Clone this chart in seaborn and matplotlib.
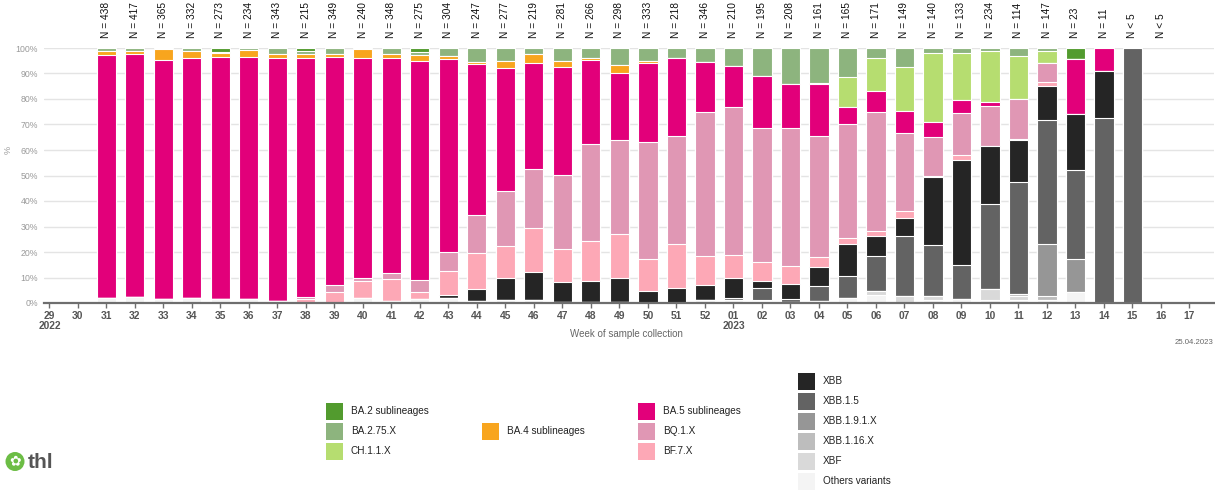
import numpy as np
import pandas as pd
import matplotlib
matplotlib.use("Agg")
import matplotlib.pyplot as plt
import matplotlib.transforms as mtransforms
from matplotlib.patches import Rectangle, Circle
import seaborn as sns

# ---------------- data ----------------
weeks = ["29", "30", "31", "32", "33", "34", "35", "36", "37", "38", "39", "40",
         "41", "42", "43", "44", "45", "46", "47", "48", "49", "50", "51", "52",
         "01", "02", "03", "04", "05", "06", "07", "08", "09", "10", "11", "12",
         "13", "14", "15", "16", "17"]

n_labels = ["", "", "N = 438", "N = 417", "N = 365", "N = 332", "N = 273", "N = 234",
            "N = 343", "N = 215", "N = 349", "N = 240", "N = 348", "N = 275", "N = 304",
            "N = 247", "N = 277", "N = 219", "N = 281", "N = 266", "N = 298", "N = 333",
            "N = 218", "N = 346", "N = 210", "N = 195", "N = 208", "N = 161", "N = 165",
            "N = 171", "N = 149", "N = 140", "N = 133", "N = 234", "N = 114", "N = 147",
            "N = 23", "N = 11", "N < 5", "N < 5", ""]

Z22 = [0] * 24
Z23 = [0] * 17

others = [0, 0, 2.0, 2.3, 1.7, 2.0, 1.6, 1.7, 0.9, 0, 0, 1.8, 0.8, 1.6, 2.0, 0.6, 1.0, 1.0, 0.3, 0.3, 0.4, 0, 0, 1.0,
          1.3, 0.8, 0.4, 0.7, 1.8, 3.0, 0, 1.3, 1.5, 1.2, 1.2, 1.2, 4.3, 0, 0, 0, 0]
xbf = Z22 + [0, 0, 0, 0, 0, 1.7, 2.7, 1.5, 0, 4.2, 1.6, 0, 0, 0, 0, 0, 0]
xbb116 = Z22 + [0, 0, 0, 0, 0, 0, 0, 0, 0, 0, 0.6, 1.4, 0, 0, 0, 0, 0]
xbb191 = Z22 + [0, 0.5, 0, 0, 0, 0, 0, 0, 0, 0, 0, 20.6, 12.9, 0, 0, 0, 0]
xbb15 = Z22 + [0.5, 4.4, 1.0, 5.9, 8.9, 13.9, 23.5, 20.0, 13.5, 33.4, 43.9, 48.4, 35.0, 72.7, 100, 0, 0]
xbb = [0] * 14 + [1.2, 5.0, 8.7, 11.0, 8.1, 8.5, 9.6, 4.6, 5.7, 6.0] + \
      [8.0, 2.8, 6.1, 7.6, 12.3, 7.8, 7.3, 26.5, 41.2, 22.7, 16.7, 13.6, 21.8, 18.2, 0, 0, 0]
bf7 = [0] * 9 + [1.6, 4.4, 6.7, 8.8, 2.9, 9.4, 13.9, 12.6, 17.6, 12.7, 15.7, 17.0, 12.7, 17.5, 11.4] + \
      [9.0, 7.7, 7.2, 3.7, 2.5, 1.7, 2.6, 0.7, 1.7, 0, 0.4, 1.4, 0, 0, 0, 0, 0]
bq1 = [0] * 9 + [0.8, 2.6, 1.5, 2.1, 4.5, 7.4, 15.0, 21.7, 22.9, 29.1, 37.7, 36.8, 45.7, 42.1, 56.6] + \
      [58.2, 52.3, 53.8, 47.6, 44.7, 46.9, 30.4, 15.0, 16.6, 15.9, 15.5, 7.4, 0, 0, 0, 0, 0]
ba5 = [0, 0, 95.2, 95.3, 93.6, 94.0, 94.8, 94.9, 95.1, 93.6, 89.5, 86.2, 84.5, 86.0, 75.7, 59.2, 48.0, 41.7,
       42.2, 33.0, 26.5, 31.3, 30.9, 19.6] + \
      [16.0, 20.5, 17.3, 20.2, 6.8, 8.1, 8.8, 6.0, 5.3, 1.5, 0, 0, 21.7, 9.1, 0, 0, 0]
ba4 = [0, 0, 1.7, 1.2, 4.2, 2.9, 1.6, 2.5, 1.8, 1.7, 1.3, 3.3, 1.6, 2.2, 1.0, 0.7, 3.0, 3.5, 2.6, 1.0, 3.0, 0.5,
       0, 0] + Z23
ch11 = Z22 + [0, 0, 0, 0.6, 11.6, 12.9, 17.4, 27.0, 18.2, 19.9, 16.8, 4.9, 0, 0, 0, 0, 0]
ba275 = [0, 0, 1.1, 1.2, 0.5, 1.1, 0.4, 0.9, 2.2, 1.3, 2.2, 0.5, 2.2, 1.4, 3.3, 5.6, 5.0, 2.3, 5.0, 3.8, 6.7,
         5.2, 3.8, 5.4] + \
        [7.0, 11.0, 14.2, 13.7, 11.4, 4.0, 7.3, 2.0, 2.0, 1.2, 3.3, 1.1, 0, 0, 0, 0, 0]
ba2 = [0, 0, 0, 0, 0, 0, 1.6, 0, 0, 1.0, 0, 0, 0, 1.4, 0, 0, 0, 0, 0, 0, 0, 0, 0, 0] + \
      [0, 0, 0, 0, 0, 0, 0, 0, 0, 0, 0, 0, 4.3, 0, 0, 0, 0]

variants = ["Others variants", "XBF", "XBB.1.16.X", "XBB.1.9.1.X", "XBB.1.5", "XBB",
            "BF.7.X", "BQ.1.X", "BA.5 sublineages", "BA.4 sublineages", "CH.1.1.X",
            "BA.2.75.X", "BA.2 sublineages"]
series = [others, xbf, xbb116, xbb191, xbb15, xbb, bf7, bq1, ba5, ba4, ch11, ba275, ba2]

colors = {
    "BA.2 sublineages": "#529b2e",
    "BA.2.75.X": "#8db47e",
    "CH.1.1.X": "#b6dd70",
    "BA.4 sublineages": "#f8a51e",
    "BA.5 sublineages": "#e2007a",
    "BQ.1.X": "#e097b4",
    "BF.7.X": "#fda8b6",
    "XBB": "#252525",
    "XBB.1.5": "#636363",
    "XBB.1.9.1.X": "#969696",
    "XBB.1.16.X": "#bdbdbd",
    "XBF": "#d9d9d9",
    "Others variants": "#f4f4f4",
}

# table + cumulative heights for stacking
df = pd.DataFrame({v: s for v, s in zip(variants, series)})
df.insert(0, "week", weeks)
cum = df[variants].cumsum(axis=1)
cum["week"] = weeks

# ---------------- figure ----------------
sns.set_theme(style="white")
plt.rcParams["font.family"] = ["Liberation Sans", "DejaVu Sans"]

W, H = 1215, 492
fig = plt.figure(figsize=(W / 100, H / 100), dpi=100)
ax = fig.add_axes([44 / W, 189 / H, 1170 / W, 255 / H])

for v in variants[::-1]:
    sns.barplot(data=cum, x="week", y=v, order=weeks, color=colors[v], saturation=1,
                width=0.67, edgecolor="white", linewidth=0.8, errorbar=None, ax=ax)

ax.set_xlim(-0.19, 40.86)
ax.set_ylim(0, 100)
ax.set_axisbelow(True)
ax.yaxis.grid(True, color="#e4e4e4", linewidth=1.0)
ax.xaxis.grid(False)
for s in ["top", "right", "left"]:
    ax.spines[s].set_visible(False)
ax.spines["bottom"].set_color("#6e6e6e")
ax.spines["bottom"].set_linewidth(1.6)

ax.set_yticks(range(0, 101, 10))
ax.set_yticklabels([f"{v}%" for v in range(0, 101, 10)], fontsize=6.3, color="#9a9a9a")
ax.tick_params(axis="y", length=0, pad=4.3)

xt = [w + ("\n2022" if w == "29" else "\n2023" if w == "01" else "") for w in weeks]
ax.set_xticks(range(len(weeks)))
ax.set_xticklabels(xt, fontsize=7.4, color="#555555", fontweight="bold", linespacing=1.0, va="top")
ax.tick_params(axis="x", direction="out", length=3.5, width=1.0, color="#6e6e6e", pad=2.3, bottom=True)
ax.set_xlabel("")
ax.set_ylabel("")

# N labels above bars
trans = mtransforms.blended_transform_factory(ax.transData, ax.transAxes)
for i, lab in enumerate(n_labels):
    if lab:
        ax.text(i, 1.041, lab, transform=trans, rotation=90, ha="center", va="bottom",
                fontsize=7.3, color="#111111", clip_on=False)

# axis texts
fig.text(626 / W, 1 - 334 / H, "Week of sample collection", ha="center", va="center",
         fontsize=7.0, color="#666666")
fig.text(8 / W, 1 - 150 / H, "%", ha="center", va="center", rotation=90,
         fontsize=6.5, color="#9a9a9a")
fig.text(1213 / W, 1 - 342 / H, "25.04.2023", ha="right", va="center",
         fontsize=5.6, color="#666666")

# legend (manual, grouped columns)
legend_cols = [
    (326, [(403, "BA.2 sublineages"), (423, "BA.2.75.X"), (443, "CH.1.1.X")]),
    (482, [(423, "BA.4 sublineages")]),
    (638, [(403, "BA.5 sublineages"), (423, "BQ.1.X"), (443, "BF.7.X")]),
    (798, [(373, "XBB"), (393, "XBB.1.5"), (413, "XBB.1.9.1.X"), (433, "XBB.1.16.X"),
           (453, "XBF"), (473, "Others variants")]),
]
for x0, rows in legend_cols:
    for ytop, name in rows:
        fig.add_artist(Rectangle((x0 / W, 1 - (ytop + 17) / H), 17 / W, 17 / H,
                                 transform=fig.transFigure, facecolor=colors[name],
                                 edgecolor="none"))
        fig.text((x0 + 25) / W, 1 - (ytop + 8.5) / H, name, ha="left", va="center",
                 fontsize=7.2, color="#222222")

# thl logo
fig.add_artist(Circle((15 / 100, (H - 461.5) / 100), 9.5 / 100, transform=fig.dpi_scale_trans,
                      facecolor="#6cbd45", edgecolor="none"))
fig.text(15 / W, 1 - 461.5 / H, "✿", ha="center", va="center", fontsize=10,
         color="white", family=["DejaVu Sans"])
fig.text(28 / W, 1 - 462 / H, "thl", ha="left", va="center", fontsize=15,
         fontweight="bold", color="#555555")

fig.savefig("out.png", dpi=100)
